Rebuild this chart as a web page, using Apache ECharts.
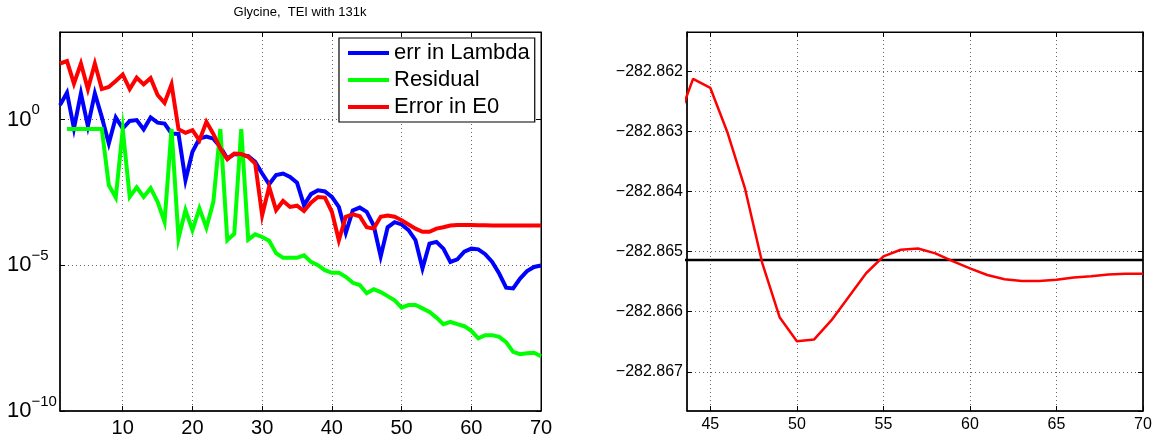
<!DOCTYPE html>
<html><head><meta charset="utf-8">
<script src="https://cdn.jsdelivr.net/npm/echarts@6/dist/echarts.min.js"></script>
<style>html,body{margin:0;padding:0;background:#fff}#c{width:1165px;height:439px}</style>
</head><body><div id="c"></div>
<script>
// ---------- data ----------
const chartTitle = 'Glycine,  TEI with 131k';
const legendLabels = ['err in Lambda', 'Residual', 'Error in E0'];

const iterations = Array.from({length: 70}, (_, i) => i + 1);       // 1..70
const residualIterations = Array.from({length: 69}, (_, i) => i + 2); // 2..70

const errLambda = [
  3.1, 8.3, 0.49, 7.8, 0.59, 7.8, 1.2, 0.15, 1.17, 0.49,
  0.89, 0.95, 0.46, 1.17, 0.78, 0.72, 0.33, 0.32, 8.3e-3, 0.078,
  0.22, 0.26, 0.22, 0.115, 0.046, 0.065, 0.060, 0.055, 0.035, 0.014,
  6.0e-3, 0.0123, 0.014, 0.0107, 6.8e-3, 1.15e-3, 2.75e-3, 3.7e-3, 3.4e-3, 2.2e-3,
  1.0e-3, 1.3e-4, 7.6e-4, 9.5e-4, 6.8e-4, 2.3e-4, 2.0e-5, 2.0e-4, 3.0e-4, 2.5e-4,
  1.6e-4, 7.2e-5, 7.8e-6, 5.5e-5, 6.3e-5, 3.7e-5, 1.3e-5, 1.6e-5, 2.9e-5, 3.7e-5,
  3.5e-5, 2.4e-5, 1.3e-5, 5.2e-6, 1.7e-6, 1.6e-6, 3.5e-6, 6.3e-6, 8.7e-6, 9.8e-6
];

const residual = [
  0.47, 0.47, 0.47, 0.47, 0.47, 0.47,
  5.6e-3, 2.1e-3, 0.46, 2.2e-3, 4.7e-3, 2.2e-3, 4.4e-3, 1.5e-3, 3.1e-4, 0.47,
  8.3e-5, 7.8e-4, 1.6e-4, 8.9e-4, 1.95e-4, 1.5e-3, 0.47, 7.2e-5, 1.2e-4, 0.47,
  7.6e-5, 1.15e-4, 9.3e-5, 6.9e-5, 2.6e-5, 1.8e-5, 1.8e-5, 1.8e-5, 2.2e-5, 1.3e-5,
  1.0e-5, 6.8e-6, 5.5e-6, 5.5e-6, 4.0e-6, 2.5e-6, 2.1e-6, 1.1e-6, 1.5e-6, 1.2e-6,
  8.7e-7, 6.3e-7, 3.5e-7, 4.3e-7, 4.3e-7, 3.3e-7, 2.5e-7, 1.6e-7, 9.5e-8, 1.15e-7,
  9.5e-8, 8.1e-8, 5.6e-8, 3.1e-8, 4.0e-8, 4.0e-8, 3.5e-8, 2.3e-8, 1.07e-8, 8.9e-9,
  9.5e-9, 1.0e-8, 7.6e-9
];

const errorE0 = [
  83, 100, 17, 83, 11, 83, 11, 13, 21, 35,
  11, 27, 16, 26, 6.9, 3.7, 16, 0.46, 0.35, 0.43,
  0.19, 0.83, 0.32, 0.10, 0.043, 0.068, 0.065, 0.052, 0.031, 5.2e-4,
  4.9e-3, 7.8e-4, 1.6e-3, 1.0e-3, 1.1e-3, 7.2e-4, 1.4e-3, 2.2e-3, 2.1e-3, 6.8e-4,
  7.2e-5, 4.6e-4, 5.6e-4, 4.8e-4, 2.0e-4, 1.8e-4, 4.6e-4, 5.1e-4, 4.6e-4, 3.5e-4,
  2.5e-4, 1.8e-4, 1.4e-4, 1.4e-4, 1.8e-4, 2.0e-4, 2.3e-4, 2.4e-4, 2.4e-4, 2.4e-4,
  2.35e-4, 2.35e-4, 2.3e-4, 2.3e-4, 2.3e-4, 2.3e-4, 2.3e-4, 2.3e-4, 2.3e-4, 2.3e-4
];

const energyIterations = Array.from({length: 28}, (_, i) => i + 43); // 43..70
const energyE0 = [
  -282.86291, -282.86213, -282.86228, -282.86303, -282.86395, -282.86519, -282.86609,
  -282.86649, -282.86646, -282.86614, -282.86575, -282.86536, -282.86508, -282.86497,
  -282.86495, -282.86503, -282.86516, -282.86528, -282.86539, -282.86546, -282.86549,
  -282.86549, -282.86547, -282.86543, -282.86541, -282.86538, -282.86537, -282.86537
];
const referenceE0 = -282.86514;

// ---------- chart ----------
const FONT = '"Liberation Sans", Arial, Helvetica, sans-serif';
const gridLine = {show: true, lineStyle: {color: '#666', width: 1, type: [1, 3]}};
const pair = (xs, ys) => xs.map((x, i) => [x, ys[i]]);

function logLabel(v) {
  const l = Math.log10(v);
  const e = Math.round(l);
  if (Math.abs(l - e) > 0.01 || e % 5 !== 0) return '';
  return '{b|10}{s|' + (e < 0 ? '\u2212' + (-e) : String(e)) + '}';
}

const leftY = {type: 'log', logBase: 100000, min: 1e-10, max: 1e3};
const rightXRange = {min: 43.65, max: 70};
const rightYRange = {min: -282.86765, max: -282.86135};

const tickIn = {show: true, inside: true, length: 5, lineStyle: {color: '#000', width: 1}};
const plainLine = {show: true, lineStyle: {color: '#000', width: 1.5}};

const option = {
  animation: false,
  backgroundColor: '#fff',
  textStyle: {fontFamily: FONT, color: '#000'},
  graphic: [{
    type: 'text', x: 300, y: 12,
    style: {text: chartTitle, fontSize: 13, fontFamily: FONT, fill: '#000', align: 'center', verticalAlign: 'middle'}
  }],
  grid: [
    {left: 60, top: 32, width: 481, height: 379, show: true, borderColor: '#000', borderWidth: 1},
    {left: 687, top: 32, width: 456, height: 379, show: true, borderColor: '#000', borderWidth: 1}
  ],
  legend: {
    data: legendLabels, orient: 'vertical', left: 339, top: 38,
    padding: [4, 5, 4, 9], itemGap: 5, itemWidth: 41, itemHeight: 4, icon: 'rect',
    borderColor: '#000', borderWidth: 1.2, backgroundColor: '#fff', z: 10,
    textStyle: {fontSize: 22, lineHeight: 22, fontFamily: FONT, color: '#000'}
  },
  xAxis: [
    {gridIndex: 0, type: 'value', min: 1, max: 70, position: 'bottom',
     axisLine: plainLine, axisTick: tickIn, splitLine: gridLine,
     axisLabel: {fontSize: 20, margin: 7, color: '#000', showMinLabel: false, fontFamily: FONT}},
    {gridIndex: 0, type: 'value', min: 1, max: 70, position: 'top',
     axisLine: {show: true, lineStyle: {color: '#000', width: 1}}, axisTick: tickIn, splitLine: {show: false}, axisLabel: {show: false}},
    {gridIndex: 1, type: 'value', min: rightXRange.min, max: rightXRange.max, position: 'bottom',
     axisLine: plainLine, axisTick: tickIn, splitLine: gridLine,
     axisLabel: {fontSize: 16, margin: 6, color: '#000', showMinLabel: false, fontFamily: FONT}},
    {gridIndex: 1, type: 'value', min: rightXRange.min, max: rightXRange.max, position: 'top',
     axisLine: {show: true, lineStyle: {color: '#000', width: 1}}, axisTick: tickIn, splitLine: {show: false}, axisLabel: {show: false}}
  ],
  yAxis: [
    Object.assign({gridIndex: 0, position: 'left',
     axisLine: plainLine, axisTick: tickIn, splitLine: gridLine, minorTick: {show: false},
     axisLabel: {margin: 53, align: 'left', color: '#000', showMinLabel: true, showMaxLabel: true, formatter: logLabel,
       rich: {
         b: {fontSize: 22, lineHeight: 34, fontFamily: FONT, color: '#000'},
         s: {fontSize: 15, lineHeight: 15, verticalAlign: 'top', fontFamily: FONT, color: '#000'}
       }}}, leftY),
    Object.assign({gridIndex: 0, position: 'right',
     axisLine: {show: true, lineStyle: {color: '#000', width: 1}}, axisTick: tickIn, splitLine: {show: false}, axisLabel: {show: false}}, leftY),
    {gridIndex: 1, type: 'value', min: rightYRange.min, max: rightYRange.max, position: 'left', scale: true,
     axisLine: plainLine, axisTick: tickIn, splitLine: gridLine,
     axisLabel: {fontSize: 16, margin: 4, color: '#000', showMinLabel: false, showMaxLabel: false, fontFamily: FONT,
       formatter: v => v.toFixed(3).replace('-', '\u2212')}},
    {gridIndex: 1, type: 'value', min: rightYRange.min, max: rightYRange.max, position: 'right', scale: true,
     axisLine: {show: true, lineStyle: {color: '#000', width: 1.5}}, axisTick: tickIn, splitLine: {show: false}, axisLabel: {show: false}}
  ],
  series: [
    {name: legendLabels[0], type: 'line', xAxisIndex: 0, yAxisIndex: 0, data: pair(iterations, errLambda),
     showSymbol: false, symbol: 'none', color: '#0000ff', lineStyle: {width: 4, color: '#0000ff', join: 'miter'}, z: 3},
    {name: legendLabels[1], type: 'line', xAxisIndex: 0, yAxisIndex: 0, data: pair(residualIterations, residual),
     showSymbol: false, symbol: 'none', color: '#00ff00', lineStyle: {width: 4, color: '#00ff00', join: 'miter'}, z: 3},
    {name: legendLabels[2], type: 'line', xAxisIndex: 0, yAxisIndex: 0, data: pair(iterations, errorE0),
     showSymbol: false, symbol: 'none', color: '#ff0000', lineStyle: {width: 4, color: '#ff0000', join: 'miter'}, z: 3},
    {name: 'reference', type: 'line', xAxisIndex: 2, yAxisIndex: 2,
     data: energyIterations.map(x => [x, referenceE0]),
     showSymbol: false, symbol: 'none', clip: true, color: '#000', lineStyle: {width: 2.5, color: '#000'}, z: 3},
    {name: 'E0', type: 'line', xAxisIndex: 2, yAxisIndex: 2, data: pair(energyIterations, energyE0),
     showSymbol: false, symbol: 'none', clip: true, color: '#ff0000', lineStyle: {width: 2.5, color: '#ff0000'}, z: 4}
  ]
};

const chart = echarts.init(document.getElementById('c'), null, {renderer: 'canvas'});
chart.setOption(option);
</script>
</body></html>
